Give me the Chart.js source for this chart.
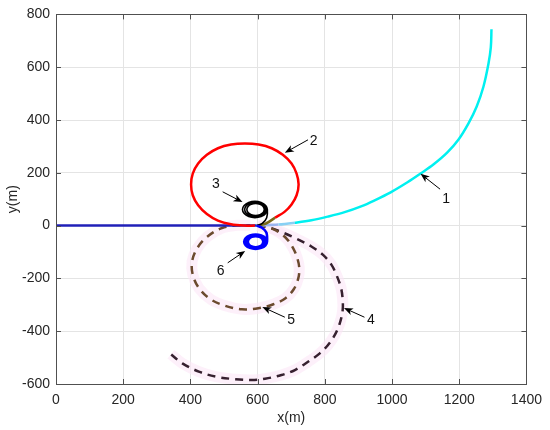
<!DOCTYPE html>
<html>
<head>
<meta charset="utf-8">
<script src="https://cdn.jsdelivr.net/npm/chart.js@4"></script>
<style>
html,body{margin:0;padding:0;background:#fff;}
#wrap{width:550px;height:430px;}
</style>
</head>
<body>
<div id="wrap"><canvas id="c" width="550" height="430"></canvas></div>
<script>
// ---- tick values ----
const xTicks = [0, 200, 400, 600, 800, 1000, 1200, 1400];
const yTicks = [-600, -400, -200, 0, 200, 400, 600, 800];

// ---- series (x(m), y(m)) ----
// straight approach line
const line0X = [0, 597];
const line0Y = [0, 0];
// trajectory 1 (cyan)
const c1X = [597, 662, 711, 760, 809, 859, 908, 947, 996, 1046, 1085, 1124, 1164, 1198, 1228, 1252, 1272, 1287, 1294, 1296];
const c1Y = [0, 4, 11, 20, 34, 51, 73, 95, 126, 164, 197, 232, 276, 326, 388, 451, 526, 613, 675, 744];
// trajectory 2 (red)
const c2X = [600, 625, 652, 680, 701, 716, 722, 716, 701, 675, 642, 603, 562, 521, 482, 449, 423, 407, 402, 407, 423, 449, 482, 521, 560, 592];
const c2Y = [0, 8, 30, 52, 80, 115, 156, 197, 235, 268, 293, 307, 311, 307, 293, 268, 235, 197, 156, 115, 77, 44, 19, 5, 0, 0];
// trajectory 3 (black loops)
const c3X = [597, 614, 627,
  629, 624, 610.5, 592, 573.5, 560, 555, 560, 573.5, 592, 610.5, 624,
  624.5, 620.3, 608.8, 593, 577.3, 565.7, 561.5, 565.7, 577.3, 593, 608.8, 620.3,
  620, 616.5, 607, 594, 581, 571.5, 568, 571.5, 581, 594, 607, 616.5, 620];
const c3Y = [0, 8, 30,
  61, 76.5, 87.8, 92, 87.8, 76.5, 61, 45.5, 34.2, 30, 34.2, 45.5,
  61, 74.5, 84.4, 88, 84.4, 74.5, 61, 47.5, 37.6, 34, 37.6, 47.5,
  61, 72.5, 80.9, 84, 80.9, 72.5, 61, 49.5, 41.1, 38, 41.1, 49.5, 61];
// trajectory 4 (dark dashed)
const c4X = [600, 635, 667, 711, 760, 794, 819, 834, 848, 853, 853, 844, 829, 809, 785, 750, 711, 671, 622, 583, 534, 475, 425, 376, 342];
const c4Y = [0, -8, -22, -47, -79, -110, -147, -185, -235, -278, -322, -372, -416, -453, -484, -516, -547, -566, -580, -585, -582, -572, -553, -522, -487];
// trajectory 5 (brown dashed)
const c5X = [600, 635, 663, 688, 706, 718, 724, 721, 708, 683, 647, 602, 553, 504, 460, 425, 407, 405, 420, 450, 494, 540, 578];
const c5Y = [0, -8, -25, -52, -86, -123, -161, -200, -240, -275, -298, -313, -317, -304, -279, -236, -186, -136, -86, -42, -9, 1, 1];
// trajectory 6 (blue loops)
const c6X = [597, 613, 626,
  628, 623.4, 611, 594, 577, 564.6, 560, 564.6, 577, 594, 611, 623.4,
  622.5, 618.7, 608.3, 594, 579.8, 569.3, 565.5, 569.3, 579.8, 594, 608.3, 618.7,
  617, 613.9, 605.5, 594, 582.5, 574.1, 571, 574.1, 582.5, 594, 605.5, 613.9, 617];
const c6Y = [0, -8, -26,
  -61, -74.5, -84.4, -88, -84.4, -74.5, -61, -47.5, -37.6, -34, -37.6, -47.5,
  -61, -73, -81.8, -85, -81.8, -73, -61, -49, -40.2, -37, -40.2, -49,
  -61, -71.5, -79.2, -82, -79.2, -71.5, -61, -50.5, -42.8, -40, -42.8, -50.5, -61];

// ---- annotation labels and arrows (data units) ----
const noteText  = ['1', '2', '3', '4', '5', '6'];
const noteX     = [1161, 767, 476, 937, 700, 490];
const noteY     = [100, 321, 158, -357, -357, -174];
const arrowTailX = [1143, 750, 496, 918, 681, 511];
const arrowTailY = [138, 325, 128, -347, -347, -141];
const arrowHeadX = [1085, 681, 555, 857, 614, 563];
const arrowHeadY = [196, 276, 89, -312, -308, -96];

const pts = (xs, ys) => xs.map((v, i) => ({x: v, y: ys[i]}));
const FONT = "'Liberation Sans', Arial, Helvetica, sans-serif";
const HALO = 'rgba(252,230,247,0.6)';

const datasets = [
  {data: pts(c6X, c6Y), borderColor: '#0000ff', borderWidth: 2.6, order: 1},
  {data: pts(c3X, c3Y), borderColor: '#000000', borderWidth: 1.6, order: 2},
  {data: pts(c2X, c2Y), borderColor: '#ff0000', borderWidth: 2.5, order: 3,
   segment: {borderColor: c => (c.p0DataIndex < 2 ? '#7a6a1a' : undefined)}},
  {data: pts(c1X, c1Y), borderColor: '#00f0f0', borderWidth: 2.5, order: 4,
   segment: {borderColor: c => (c.p0.parsed.x < 650 ? '#9ab4f0' : (c.p0.parsed.x < 700 ? '#88d0f4' : undefined))}},
  {data: pts(line0X, line0Y), borderColor: '#2020b8', borderWidth: 2.5, order: 5, tension: 0},
  {data: pts(c5X, c5Y), borderColor: '#6b4a2e', borderWidth: 2.5, borderDash: [8, 6], order: 6},
  {data: pts(c4X, c4Y), borderColor: '#36202f', borderWidth: 2.5, borderDash: [8, 6], order: 7},
  {data: pts(c5X, c5Y), borderColor: HALO, borderWidth: 11, order: 8},
  {data: pts(c4X, c4Y), borderColor: HALO, borderWidth: 11, order: 9}
].map(d => Object.assign({showLine: true, pointRadius: 0, tension: 0.35, fill: false}, d));

const overlay = {
  id: 'overlay',
  afterDatasetsDraw(chart) {
    const {ctx, chartArea: a, scales: {x, y}} = chart;
    ctx.save();
    // arrows
    ctx.strokeStyle = '#000'; ctx.fillStyle = '#000'; ctx.lineWidth = 1;
    for (let i = 0; i < noteText.length; i++) {
      const tx = x.getPixelForValue(arrowTailX[i]), ty = y.getPixelForValue(arrowTailY[i]);
      const hx = x.getPixelForValue(arrowHeadX[i]), hy = y.getPixelForValue(arrowHeadY[i]);
      const ang = Math.atan2(hy - ty, hx - tx);
      const L = 9, W = 3.6;
      const bx = hx - L * Math.cos(ang), by = hy - L * Math.sin(ang);
      ctx.beginPath(); ctx.moveTo(tx, ty); ctx.lineTo(hx - 5 * Math.cos(ang), hy - 5 * Math.sin(ang)); ctx.stroke();
      ctx.beginPath();
      ctx.moveTo(hx, hy);
      ctx.lineTo(bx - W * Math.sin(ang), by + W * Math.cos(ang));
      ctx.lineTo(hx - 6.5 * Math.cos(ang), hy - 6.5 * Math.sin(ang));
      ctx.lineTo(bx + W * Math.sin(ang), by - W * Math.cos(ang));
      ctx.closePath(); ctx.fill();
      ctx.font = '14px ' + FONT; ctx.textAlign = 'center'; ctx.textBaseline = 'middle';
      ctx.fillStyle = '#111';
      ctx.fillText(noteText[i], x.getPixelForValue(noteX[i]), y.getPixelForValue(noteY[i]));
      ctx.fillStyle = '#000';
    }
    // box
    ctx.strokeStyle = '#505050'; ctx.lineWidth = 1;
    ctx.strokeRect(Math.round(a.left) + 0.5, Math.round(a.top) + 0.5, Math.round(a.right - a.left), Math.round(a.bottom - a.top));
    // inward ticks
    const tl = 5;
    ctx.beginPath();
    xTicks.forEach(v => {
      const px = Math.round(x.getPixelForValue(v)) + 0.5;
      ctx.moveTo(px, a.bottom); ctx.lineTo(px, a.bottom - tl);
      ctx.moveTo(px, a.top); ctx.lineTo(px, a.top + tl);
    });
    yTicks.forEach(v => {
      const py = Math.round(y.getPixelForValue(v)) + 0.5;
      ctx.moveTo(a.left, py); ctx.lineTo(a.left + tl, py);
      ctx.moveTo(a.right, py); ctx.lineTo(a.right - tl, py);
    });
    ctx.stroke();
    ctx.restore();
  },
  afterDraw(chart) {
    const {ctx, chartArea: a} = chart;
    ctx.save();
    ctx.fillStyle = '#262626';
    ctx.font = '14px ' + FONT;
    ctx.textAlign = 'center'; ctx.textBaseline = 'middle';
    ctx.fillText('x(m)', (a.left + a.right) / 2, 418);
    ctx.translate(13, (a.top + a.bottom) / 2);
    ctx.rotate(-Math.PI / 2);
    ctx.fillText('y(m)', 0, 0);
    ctx.restore();
  }
};

new Chart(document.getElementById('c'), {
  type: 'scatter',
  data: {datasets},
  options: {
    responsive: false,
    animation: false,
    events: [],
    layout: {padding: {left: 0, top: 10, right: 20, bottom: 0}},
    plugins: {legend: {display: false}, tooltip: {enabled: false}},
    scales: {
      x: {
        type: 'linear', min: 0, max: 1400,
        afterBuildTicks: s => { s.ticks = xTicks.map(v => ({value: v})); },
        afterFit: s => { s.height = 46; },
        grid: {color: '#e4e4e4', lineWidth: 1, drawTicks: false},
        border: {display: false},
        ticks: {autoSkip: false, maxRotation: 0, padding: 8, color: '#262626', font: {family: FONT, size: 14},
                callback: v => String(v)}
      },
      y: {
        type: 'linear', min: -600, max: 800,
        afterBuildTicks: s => { s.ticks = yTicks.map(v => ({value: v})); },
        afterFit: s => { s.width = 56; },
        grid: {color: '#e4e4e4', lineWidth: 1, drawTicks: false},
        border: {display: false},
        ticks: {autoSkip: false, padding: 6, color: '#262626', font: {family: FONT, size: 14},
                callback: v => String(v)}
      }
    }
  },
  plugins: [overlay]
});
</script>
</body>
</html>
